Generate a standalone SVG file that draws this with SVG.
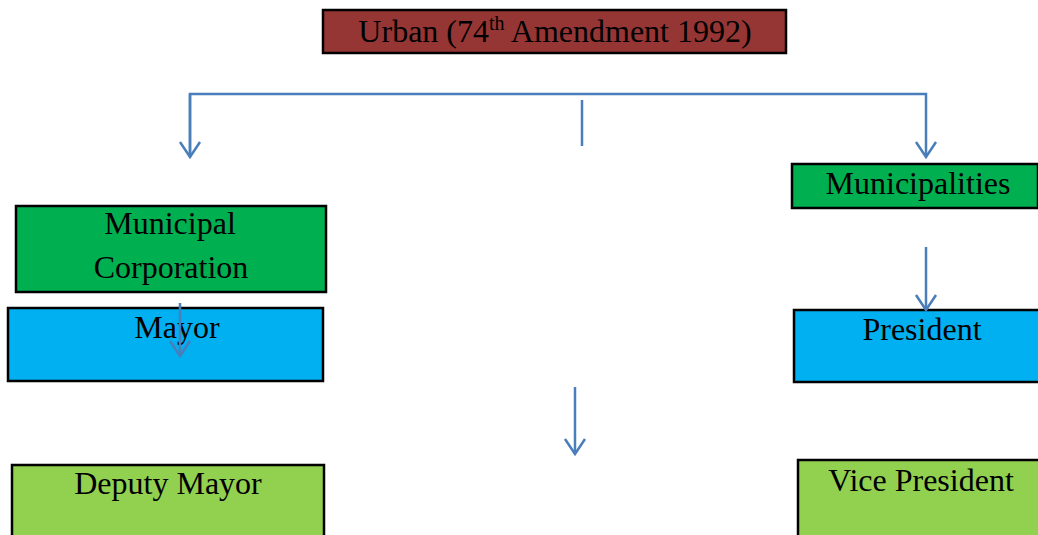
<svg xmlns="http://www.w3.org/2000/svg" width="1038" height="535" viewBox="0 0 1038 535">
<style>
.box{stroke:#000;stroke-width:2.5}
.t{font-family:"Liberation Serif","Times New Roman",serif;font-size:32px;fill:#000;text-anchor:middle}
.c{fill:none;stroke:#4a7ebb;stroke-width:2.5}
</style>
<defs>
<marker id="ah" markerWidth="30" markerHeight="30" viewBox="-16 -15 30 30" refX="0" refY="0" orient="auto" markerUnits="userSpaceOnUse">
<polyline points="-15,-10 0,0 -15,10" fill="none" stroke="#4a7ebb" stroke-width="2.5"/>
</marker>
</defs>
<g id="urban"><rect class="box" x="323" y="10" width="463" height="43" fill="#963634"/><text class="t" x="555" y="42">Urban (74<tspan font-size="20" dy="-12">th</tspan><tspan dy="12"> Amendment 1992)</tspan></text></g>
<g id="municipal-corporation"><rect class="box" x="16" y="206" width="310" height="86" fill="#00b050"/><text class="t" x="170" y="234">Municipal</text><text class="t" x="171" y="278">Corporation</text></g>
<g id="municipalities"><rect class="box" x="792" y="164" width="246" height="44" fill="#00b050"/><text class="t" x="918" y="194">Municipalities</text></g>
<g id="mayor"><rect class="box" x="8" y="308" width="315" height="73" fill="#00b0f0"/><text class="t" x="177" y="338">Mayor</text></g>
<g id="president"><rect class="box" x="794" y="310" width="246" height="72" fill="#00b0f0"/><text class="t" x="922" y="340">President</text></g>
<g id="deputy-mayor"><rect class="box" x="12" y="465" width="312" height="80" fill="#92d050"/><text class="t" x="168" y="494">Deputy Mayor</text></g>
<g id="vice-president"><rect class="box" x="798" y="460" width="242" height="85" fill="#92d050"/><text class="t" x="921" y="491">Vice President</text></g>
<g id="connectors">
<polyline class="c" points="190,157 190,94 926,94 926,157" marker-end="url(#ah)"/>
<path class="c" d="M190,94 V157" marker-end="url(#ah)"/>
<line class="c" x1="582" y1="100" x2="582" y2="146"/>
<path class="c" d="M926,247 V310" marker-end="url(#ah)"/>
<path class="c" d="M575,387 V454" marker-end="url(#ah)"/>
<path class="c" d="M180,303 V356" marker-end="url(#ah)"/>
</g>
</svg>
